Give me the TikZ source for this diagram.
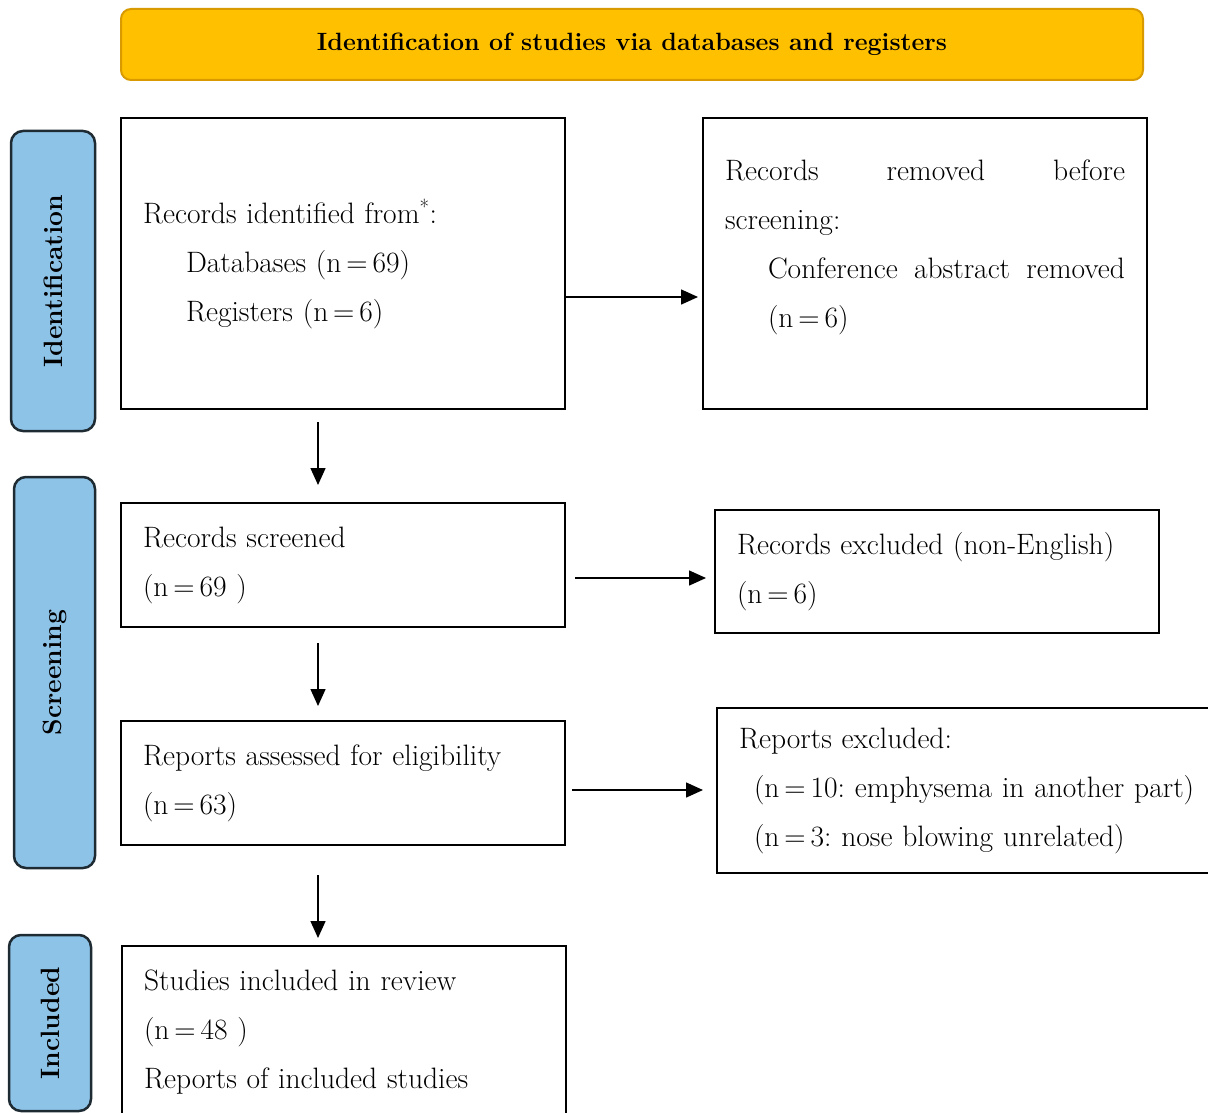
\documentclass[tikz,border=0pt]{standalone}
\usetikzlibrary{arrows.meta}
\definecolor{hdrfill}{HTML}{FFC000}
\definecolor{hdrdraw}{HTML}{D99A00}
\definecolor{sidefill}{HTML}{8EC3E8}
\definecolor{sidedraw}{HTML}{1E2B33}
\tikzset{
  box/.style={draw, line width=2pt, anchor=north west, inner xsep=22pt, inner ysep=0pt, align=left},
  hdr/.style={draw=hdrdraw, fill=hdrfill, line width=2pt, rounded corners=10pt, font=\fontsize{25}{30}\selectfont\bfseries},
  side/.style={draw=sidedraw, fill=sidefill, line width=2.5pt, rounded corners=12pt, rotate=90, font=\fontsize{26.5}{30}\selectfont\bfseries},
  arr/.style={line width=1.5pt, -{Triangle[length=17pt,width=15pt]}},
}
\newcommand{\nn}[1]{(n\,=\,#1)}
\frenchspacing
\begin{document}
\begin{tikzpicture}[x=1pt,y=-1pt,font=\fontsize{29.5}{49}\selectfont]
\clip (0,0) rectangle (1208,1113);
\fill[white] (0,0) rectangle (1208,1113);

\node[hdr, minimum width=1022pt, minimum height=71pt] (title) at (632,44.5) {Identification of studies via databases and registers};

\node[side, minimum width=300pt, minimum height=84pt] (sideid) at (53,281) {Identification};
\node[side, minimum width=391pt, minimum height=81pt] (sidescr) at (54.5,672.5) {Screening};
\node[side, minimum width=176pt, minimum height=82pt] (sideinc) at (50,1023) {Included};

\node[box, text width=400pt, minimum height=291pt] (ident) at (120,117)
  {Records identified from\textsuperscript{*}:\\ \hspace*{43pt}Databases \nn{69}\\ \hspace*{43pt}Registers \nn{6}};
\node[box, text width=400pt, minimum height=291pt, align=justify] (removed) at (702,117)
  {\parindent=0pt Records removed before\linebreak screening:\par\leftskip=43pt Conference abstract removed\linebreak \nn{6}\par\vspace{-9pt}\mbox{}};
\node[box, text width=400pt, minimum height=124pt] (screened) at (120,502)
  {Records screened\\(n\,=\,69 )};
\node[box, text width=400pt, minimum height=123pt] (excluded) at (714,509)
  {Records excluded (non-English)\\\nn{6}};
\node[box, text width=400pt, minimum height=124pt] (assessed) at (120,720)
  {Reports assessed for eligibility\\\nn{63}};
\node[box, text width=476pt, minimum height=165pt] (repexcl) at (716,707)
  {Reports excluded:\\ \hspace*{15pt}(n\,=\,10: emphysema in another part)\\ \hspace*{15pt}(n\,=\,3: nose blowing unrelated)};
\node[box, text width=400pt, minimum height=172pt] (included) at (121,945)
  {Studies included in review\\(n\,=\,48 )\\Reports of included studies};

\coordinate (ax) at (318,0);
\draw[arr, shorten >=4pt] ([yshift=-33.5pt]ident.east) -- ([yshift=-33.5pt]ident.east -| removed.west);
\draw[arr, shorten <=9pt, shorten >=8pt] ([yshift=-13pt]screened.east) -- ([yshift=-13pt]screened.east -| excluded.west);
\draw[arr, shorten <=6pt, shorten >=13pt] ([yshift=-7pt]assessed.east) -- ([yshift=-7pt]assessed.east -| repexcl.west);
\draw[arr, shorten <=12pt, shorten >=17pt] (ident.south -| ax) -- (screened.north -| ax);
\draw[arr, shorten <=15pt, shorten >=14pt] (screened.south -| ax) -- (assessed.north -| ax);
\draw[arr, shorten <=29pt, shorten >=7pt] (assessed.south -| ax) -- (included.north -| ax);
\end{tikzpicture}
\end{document}
